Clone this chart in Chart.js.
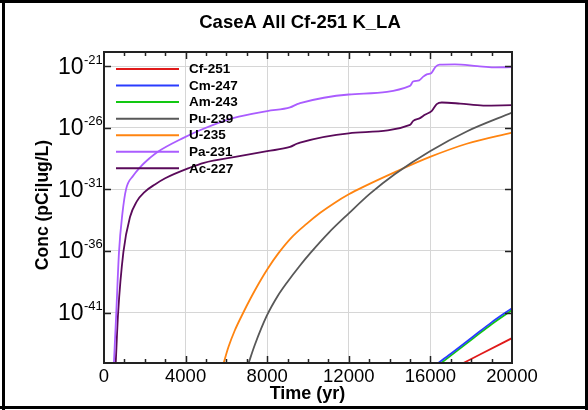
<!DOCTYPE html>
<html>
<head>
<meta charset="utf-8">
<script src="https://cdn.jsdelivr.net/npm/chart.js@4"></script>
<style>
  html, body { margin: 0; padding: 0; background: #fff; }
</style>
</head>
<body>
<canvas id="chart" width="588" height="410"></canvas>
<script>
// axis setup
var xTicks = [0, 4000, 8000, 12000, 16000, 20000];
var yTickExps = [-21, -26, -31, -36, -41];
var yMinExp = -45.1;
var yMaxExp = -19.85;

var names = ["Cf-251", "Cm-247", "Am-243", "Pu-239", "U-235", "Pa-231", "Ac-227"];
var colors = ["#e01a1a", "#2a3cff", "#12c812", "#585858", "#ff8410", "#aa5cff", "#5a0a5a"];

// time (yr) and log10 of concentration
var cfTime = [17500, 18500, 20000];
var cfLog = [-45.2, -44.35, -43.08];

var cmTime = [16300, 17000, 18100, 19000, 20000];
var cmLog = [-45.2, -44.35, -42.95, -41.8, -40.65];

var amTime = [16450, 17000, 18100, 19000, 20000];
var amLog = [-45.2, -44.5, -43.1, -41.95, -40.8];

var puTime = [7050, 7400, 7970, 8500, 9000, 9600, 10100, 11000, 12000, 13040, 14265, 15980, 17780, 20000];
var puLog = [-45.3, -43.6, -41.3, -39.7, -38.5, -37.2, -36.2, -34.55, -32.95, -31.35, -29.75, -27.9, -26.3, -24.77];

var uTime = [5830, 6100, 6400, 6830, 7200, 7600, 8000, 8545, 9200, 9930, 10600, 11300, 12000, 12710,
  14265, 15980, 17780, 20000];
var uLog = [-45.3, -43.8, -42.5, -41.0, -39.8, -38.6, -37.5, -36.2, -34.9, -33.8, -32.9, -32.1, -31.4, -30.8,
  -29.6, -28.37, -27.3, -26.4];

var paTime = [480, 600, 735, 900, 1080, 1430, 1800, 2250, 2590, 3920, 4700, 6370, 8000, 9120, 9450, 9610,
  12000, 15000, 15150, 15450, 15650, 15850, 16050, 16250, 16450, 17200, 18300, 19100, 20000];
var paLog = [-45.3, -41.1, -36.1, -33.0, -31.0, -29.9, -29.15, -28.45, -28.0, -26.8, -26.2, -25.2, -24.65, -24.35, -24.1, -24.0,
  -23.3, -22.6, -22.25, -22.15, -21.85, -21.65, -21.55, -21.05, -20.88, -20.86, -21.0, -21.1, -21.08];

var acTime = [570, 690, 950, 1275, 1600, 2000, 2500, 3000, 4200, 4900, 6500, 8000, 9120, 9450, 9610,
  12000, 15000, 15160, 15490, 15730, 16070, 16310, 16560, 17460, 18590, 20000];
var acLog = [-45.3, -41.1, -36.1, -33.25, -32.0, -31.2, -30.6, -30.1, -29.25, -28.85, -28.35, -27.9, -27.56, -27.3, -27.2,
  -26.45, -25.76, -25.44, -25.22, -24.95, -24.63, -24.08, -23.95, -24.04, -24.2, -24.17];

var FONT = "'Liberation Sans', Arial, Helvetica, sans-serif";

var times = [cfTime, cmTime, amTime, puTime, uTime, paTime, acTime];
var logs = [cfLog, cmLog, amLog, puLog, uLog, paLog, acLog];

var datasets = names.map(function (name, i) {
  return {
    label: name,
    data: times[i].map(function (t, j) {
      return { x: t, y: Math.pow(10, logs[i][j]) };
    }),
    borderColor: colors[i],
    backgroundColor: colors[i],
    borderWidth: 1.8,
    pointRadius: 0,
    cubicInterpolationMode: "monotone",
    fill: false,
  };
});

function line(ctx, x1, y1, x2, y2) {
  ctx.beginPath();
  ctx.moveTo(x1, y1);
  ctx.lineTo(x2, y2);
  ctx.stroke();
}

// frame, ticks, 10^n labels, titles and the legend
var decor = {
  id: "decor",
  beforeDraw: function (chart) {
    var ctx = chart.ctx;
    ctx.save();
    ctx.fillStyle = "#fff";
    ctx.fillRect(0, 0, chart.width, chart.height);
    ctx.restore();
  },
  afterDatasetsDraw: function (chart) {
    var ctx = chart.ctx;
    var a = chart.chartArea;
    var xs = chart.scales.x;
    var ys = chart.scales.y;
    ctx.save();

    ctx.strokeStyle = "#222";
    ctx.lineWidth = 2;
    ctx.strokeRect(a.left, a.top, a.right - a.left, a.bottom - a.top);

    ctx.lineWidth = 1.5;
    for (var t = 1000; t < 20000; t += 1000) {
      var px = Math.round(xs.getPixelForValue(t)) + 0.5;
      var len = t % 4000 === 0 ? 7 : 4;
      line(ctx, px, a.bottom, px, a.bottom - len);
      line(ctx, px, a.top, px, a.top + len);
    }
    yTickExps.forEach(function (e) {
      var py = Math.round(ys.getPixelForValue(Math.pow(10, e))) + 0.5;
      line(ctx, a.left, py, a.left + 7, py);
      line(ctx, a.right, py, a.right - 7, py);
    });

    // y tick labels as 10 with a raised exponent
    ctx.fillStyle = "#000";
    yTickExps.forEach(function (e) {
      var py = ys.getPixelForValue(Math.pow(10, e));
      ctx.textAlign = "right";
      ctx.textBaseline = "alphabetic";
      ctx.font = "23px " + FONT;
      ctx.fillText("10", 83.5, py + 7.5);
      ctx.textAlign = "left";
      ctx.font = "13px " + FONT;
      ctx.fillText(String(e), 84, py - 2.5);
    });

    // titles
    ctx.textAlign = "center";
    ctx.textBaseline = "alphabetic";
    ctx.font = "bold 18.5px " + FONT;
    ctx.fillText("CaseA All Cf-251 K_LA", 300, 28);
    ctx.font = "bold 18px " + FONT;
    ctx.fillText("Time (yr)", 307.5, 399);
    ctx.save();
    ctx.translate(48, 205);
    ctx.rotate(-Math.PI / 2);
    ctx.font = "bold 17.5px " + FONT;
    ctx.fillText("Conc (pCi|ug/L)", 0, 0);
    ctx.restore();

    // legend inside the plot
    ctx.font = "bold 13.5px " + FONT;
    ctx.textAlign = "left";
    ctx.textBaseline = "middle";
    names.forEach(function (name, i) {
      var ly = 69 + i * 16.55;
      ctx.strokeStyle = colors[i];
      ctx.lineWidth = 2;
      line(ctx, 116, ly, 179, ly);
      ctx.fillStyle = "#000";
      ctx.fillText(name, 189, ly + 0.5);
    });

    // outer border of the picture
    ctx.strokeStyle = "#000";
    ctx.lineWidth = 3;
    line(ctx, 3.5, 0, 3.5, 410);
    line(ctx, 0, 1.5, 588, 1.5);
    line(ctx, 0, 407.5, 588, 407.5);
    line(ctx, 586.5, 0, 586.5, 410);

    ctx.restore();
  },
};

new Chart(document.getElementById("chart").getContext("2d"), {
  type: "line",
  data: { datasets: datasets },
  options: {
    responsive: false,
    animation: false,
    layout: { padding: { left: 0, top: 52, right: 76, bottom: 0 } },
    plugins: {
      legend: { display: false },
      title: { display: false },
      tooltip: { enabled: false },
    },
    scales: {
      x: {
        type: "linear",
        min: 0,
        max: 20000,
        afterBuildTicks: function (s) {
          s.ticks = xTicks.map(function (v) { return { value: v }; });
        },
        grid: { color: "#d6d6d6", lineWidth: 1, drawTicks: false },
        border: { display: false },
        ticks: {
          color: "#000",
          font: { size: 18.5, family: FONT },
          padding: 3,
          maxRotation: 0,
          autoSkip: false,
          callback: function (v) {
            return String(v);
          },
        },
        afterFit: function (s) {
          s.height = 47;
        },
      },
      y: {
        type: "logarithmic",
        min: Math.pow(10, yMinExp),
        max: Math.pow(10, yMaxExp),
        afterBuildTicks: function (s) {
          s.ticks = yTickExps.map(function (e) { return { value: Math.pow(10, e) }; });
        },
        grid: { color: "#d6d6d6", lineWidth: 1, drawTicks: false },
        border: { display: false },
        ticks: { display: false },
        afterFit: function (s) {
          s.width = 104;
        },
      },
    },
  },
  plugins: [decor],
});
</script>
</body>
</html>
